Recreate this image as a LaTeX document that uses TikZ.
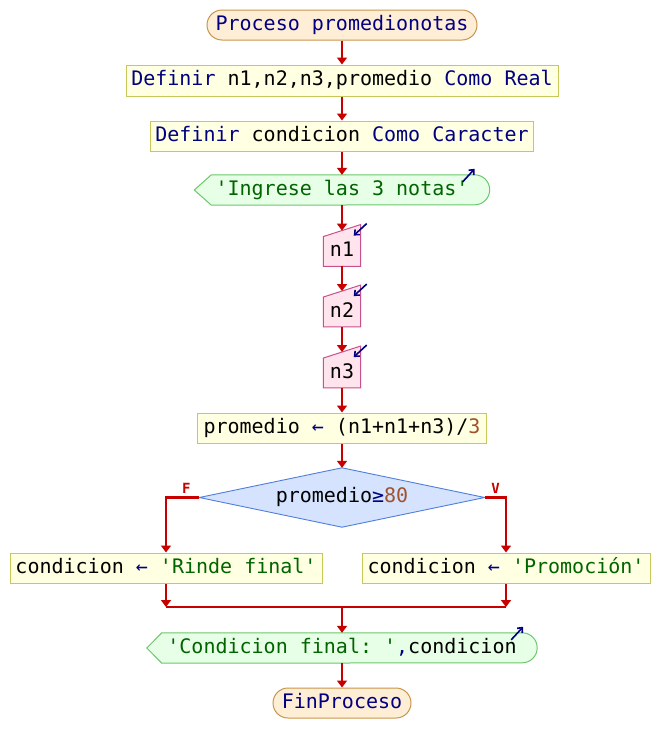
\documentclass[tikz,border=0pt]{standalone}
\usepackage{fontspec}
\setmonofont{DejaVu Sans Mono}
\usetikzlibrary{arrows.meta,backgrounds,calc}
\definecolor{termF}{HTML}{FFEED6}
\definecolor{termB}{HTML}{C8964B}
\definecolor{procF}{HTML}{FFFFE1}
\definecolor{procB}{HTML}{C8C85A}
\definecolor{outF}{HTML}{E6FFE6}
\definecolor{outB}{HTML}{6BC86B}
\definecolor{inF}{HTML}{FFE4EE}
\definecolor{inB}{HTML}{C8508C}
\definecolor{decF}{HTML}{D5E3FF}
\definecolor{decB}{HTML}{4F7FD8}
\definecolor{flowR}{HTML}{C80000}
\definecolor{kwC}{HTML}{000080}
\definecolor{strC}{HTML}{006400}
\definecolor{numC}{HTML}{A0522D}
\newcommand{\kw}[1]{\textcolor{kwC}{#1}}
\newcommand{\str}[1]{\textcolor{strC}{#1}}
\newcommand{\num}[1]{\textcolor{numC}{#1}}
\begin{document}
\begin{tikzpicture}[x=1pt,y=-1pt,
  font=\ttfamily\fontsize{20}{22}\selectfont,
  base/.style={inner sep=0pt, minimum height=30pt, text height=14.5pt, text depth=4pt},
  term/.style={base, draw=termB, fill=termF, rounded corners=15pt, line width=1pt},
  proc/.style={base, draw=procB, fill=procF, line width=1pt},
  outS/.style={draw=outB, fill=outF, line width=1pt},
  inS/.style={draw=inB, fill=inF, line width=1pt},
  decS/.style={draw=decB, fill=decF, line width=0.9pt},
  flow/.style={draw=flowR, line width=2.2pt, -{Triangle[length=7pt,width=10pt]}},
  plain/.style={draw=flowR, line width=2.2pt},
  icon/.style={draw=kwC, line width=1.6pt, -{Straight Barb[length=4pt,width=7pt]}},
  lbl/.style={text=flowR, font=\ttfamily\bfseries\fontsize{14}{16}\selectfont, inner sep=0pt}
]
\useasboundingbox (0,0) rectangle (660,753);

% nodes
\node[term, minimum width=270pt] (t1) at (342,25) {\kw{Proceso promedionotas}};
\node[proc, minimum width=432pt, minimum height=31pt] (p1) at (342,80.5) {\kw{Definir} n1,n2,n3,promedio \kw{Como Real}};
\node[proc, minimum width=383pt] (p2) at (342,136) {\kw{Definir} condicion \kw{Como Caracter}};
\node[base, minimum width=295pt] (o1) at (342,190) {\str{'Ingrese las 3 notas'}};
\node[base, minimum width=37pt, minimum height=29.5pt] (n1) at (342,251.5) {n1};
\node[base, minimum width=37pt, minimum height=29.5pt] (n2) at (342,312) {n2};
\node[base, minimum width=37pt, minimum height=29.5pt] (n3) at (342,373) {n3};
\node[proc, minimum width=289pt] (a1) at (342,428) {promedio \kw{←} (n1+n1+n3)/\num{3}};
\node[base, minimum width=285pt, minimum height=59pt] (d) at (342,497.5) {promedio\kw{≥}\num{80}};
\node[proc, minimum width=312pt] (l) at (166,568) {condicion \kw{←} \str{'Rinde final'}};
\node[proc, minimum width=288pt] (r) at (506,568) {condicion \kw{←} \str{'Promoción'}};
\node[base, minimum width=390pt] (o2) at (342,648) {\str{'Condicion final: '}\kw{,}condicion};
\node[term, minimum width=138pt] (t2) at (342,703) {\kw{FinProceso}};

% custom outlines
\begin{scope}[on background layer]
  \draw[outS] (o1.west) -- ([xshift=17pt]o1.north west) -- ([xshift=-15pt]o1.north east)
    arc[start angle=90,end angle=-90,x radius=15pt,y radius=15pt]
    -- ([xshift=17pt]o1.south west) -- cycle;
  \draw[outS] (o2.west) -- ([xshift=15pt]o2.north west) -- ([xshift=-15pt]o2.north east)
    arc[start angle=90,end angle=-90,x radius=15pt,y radius=15pt]
    -- ([xshift=15pt]o2.south west) -- cycle;
  \foreach \n in {n1,n2,n3}{
    \draw[inS] (\n.south west) -- (\n.north west) -- ([yshift=12pt]\n.north east) -- (\n.south east) -- cycle;
  }
  \draw[decS] (d.west) -- (d.north) -- (d.east) -- (d.south) -- cycle;
\end{scope}

% icons
\draw[icon] ([xshift=-27pt,yshift=-7pt]o1.north east) -- ([xshift=-15pt,yshift=6pt]o1.north east);
\draw[icon] ([xshift=-26pt,yshift=-7pt]o2.north east) -- ([xshift=-14pt,yshift=6pt]o2.north east);
\foreach \n in {n1,n2,n3}{
  \draw[icon] ([xshift=6pt,yshift=13pt]\n.north east) -- ([xshift=-7pt,yshift=1pt]\n.north east);
}

% connectors
\draw[flow] (t1.south) -- (p1.north);
\draw[flow] (p1.south) -- (p2.north);
\draw[flow] (p2.south) -- (o1.north);
\draw[flow] (o1.south) -- ([yshift=6pt]n1.north);
\draw[flow] (n1.south) -- ([yshift=6pt]n2.north);
\draw[flow] (n2.south) -- ([yshift=6pt]n3.north);
\draw[flow] (n3.south) -- (a1.north);
\draw[flow] (a1.south) -- (d.north);
\draw[flow] (d.west) -| (l.north);
\draw[flow] (d.east) -| (r.north);
\node[lbl] (fl) at ([xshift=-13pt,yshift=9pt]d.west) {F};
\node[lbl] (vl) at ([xshift=11pt,yshift=9pt]d.east) {V};
\coordinate (jl) at (166,607);
\coordinate (jr) at (506,607);
\coordinate (jm) at (342,607);
\draw[flow] (l.south) -- (jl);
\draw[flow] (r.south) -- (jr);
\draw[plain] (jl) -- (jr);
\draw[flow] (jm) -- (o2.north);
\draw[flow] (o2.south) -- (t2.north);
\end{tikzpicture}
\end{document}
